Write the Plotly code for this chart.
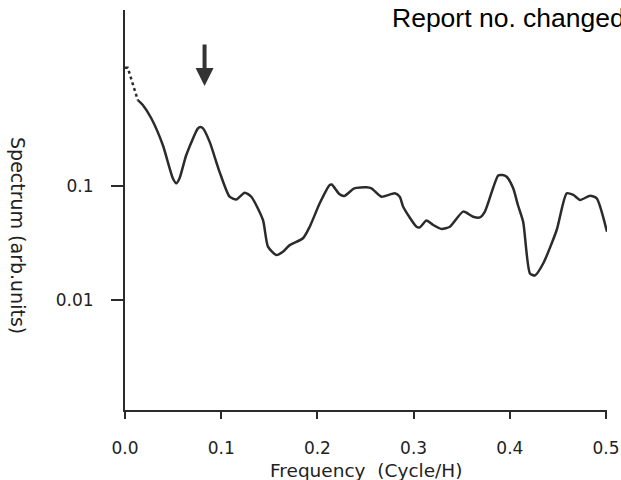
import plotly.graph_objects as go

# Dotted low-frequency start of the spectrum
dot_freq = [0.0, 0.0029, 0.0078, 0.0133]
dot_spec = [1.09, 1.09, 0.80, 0.567]

# Solid spectrum curve (frequency in cycle/hour, spectrum in arb. units)
freq = [0.0133, 0.0185, 0.0273, 0.0393, 0.0497, 0.0533, 0.0567, 0.0637, 0.0758,
        0.0786, 0.0810, 0.0879, 0.0983, 0.1087, 0.1157, 0.1244, 0.1313, 0.1434,
        0.1486, 0.1573, 0.1642, 0.1712, 0.1850, 0.1920, 0.2024, 0.2128, 0.2149,
        0.2227, 0.2279, 0.2383, 0.2510, 0.2562, 0.2666, 0.2804, 0.2856, 0.2891,
        0.3030, 0.3065, 0.3134, 0.3203, 0.3290, 0.3377, 0.3515, 0.3619, 0.3689,
        0.3741, 0.3879, 0.3923, 0.3970, 0.4035, 0.4084, 0.4139, 0.4209, 0.4261,
        0.4348, 0.4487, 0.4591, 0.4660, 0.4730, 0.4834, 0.4903, 0.5010]
spec = [0.567, 0.514, 0.393, 0.229, 0.117, 0.1056, 0.117, 0.187, 0.321,
        0.330, 0.321, 0.245, 0.133, 0.0805, 0.0762, 0.0873, 0.0805, 0.0503,
        0.0294, 0.0248, 0.0265, 0.0303, 0.0348, 0.0439, 0.0705, 0.102, 0.103,
        0.0851, 0.0817, 0.0954, 0.0975, 0.0954, 0.0805, 0.0863, 0.0805, 0.0658,
        0.0439, 0.0434, 0.0498, 0.0455, 0.0420, 0.0439, 0.0596, 0.0538, 0.0530,
        0.0596, 0.1236, 0.1248, 0.120, 0.0954, 0.0681, 0.0483, 0.0171, 0.0164,
        0.0210, 0.0411, 0.0863, 0.0834, 0.0754, 0.0822, 0.0780, 0.0397]

x_ticks = [0.0, 0.1, 0.2, 0.3, 0.4, 0.5]
x_ticktext = ["0.0", "0.1", "0.2", "0.3", "0.4", "0.5"]
y_ticks = [0.1, 0.01]
y_ticktext = ["0.1", "0.01"]

arrow_freq = 0.0827
arrow_spec = 0.753

INK = "#2b2b2b"
SCAN_FONT = "DejaVu Sans, Arial, sans-serif"

fig = go.Figure()
fig.add_trace(go.Scatter(x=dot_freq, y=dot_spec, mode="lines",
                         line=dict(color=INK, width=2.5, dash="dot"),
                         showlegend=False, hoverinfo="skip"))
fig.add_trace(go.Scatter(x=freq, y=spec, mode="lines",
                         line=dict(color=INK, width=2.5, shape="spline", smoothing=0.6),
                         showlegend=False))

fig.update_layout(
    width=621, height=480,
    margin=dict(l=125, r=14, t=10, b=70),
    paper_bgcolor="white", plot_bgcolor="white",
    xaxis=dict(range=[0, 0.501], tickvals=x_ticks, ticktext=x_ticktext,
               automargin=False,
               showgrid=False, zeroline=False, showline=True, linecolor=INK,
               linewidth=2, ticks="outside", ticklen=7, tickwidth=2, tickcolor=INK,
               ticklabelstandoff=15,
               tickfont=dict(family=SCAN_FONT, size=17, color="#222")),
    yaxis=dict(type="log", range=[-2.965, 0.544], tickvals=y_ticks, ticktext=y_ticktext,
               automargin=False,
               showgrid=False, zeroline=False, showline=True, linecolor=INK,
               linewidth=2, ticks="outside", ticklen=12, tickwidth=2, tickcolor=INK,
               ticklabelstandoff=14,
               tickfont=dict(family=SCAN_FONT, size=17, color="#222")),
    annotations=[
        dict(x=arrow_freq, y=-0.123, xref="x", yref="y", text="", showarrow=True,
             ax=0, ay=-43, arrowhead=2, arrowsize=0.9, arrowwidth=4, arrowcolor="#333",
             standoff=0),
        dict(text="Report no. changed", xref="paper", yref="paper", x=0.549, y=0.98,
             xanchor="left", yanchor="middle", showarrow=False,
             font=dict(family="Liberation Sans, Arial", size=26.5, color="black")),
        dict(text="Frequency  (Cycle/H)", xref="paper", yref="paper", x=0.499, y=-0.152,
             xanchor="center", yanchor="middle", showarrow=False,
             font=dict(family=SCAN_FONT, size=18.5, color="#222")),
        dict(text="Spectrum (arb.units)", xref="paper", yref="paper", x=-0.222, y=0.435,
             xanchor="center", yanchor="middle", showarrow=False, textangle=90,
             font=dict(family=SCAN_FONT, size=19, color="#222")),
    ],
)

fig.write_html("out.html")
